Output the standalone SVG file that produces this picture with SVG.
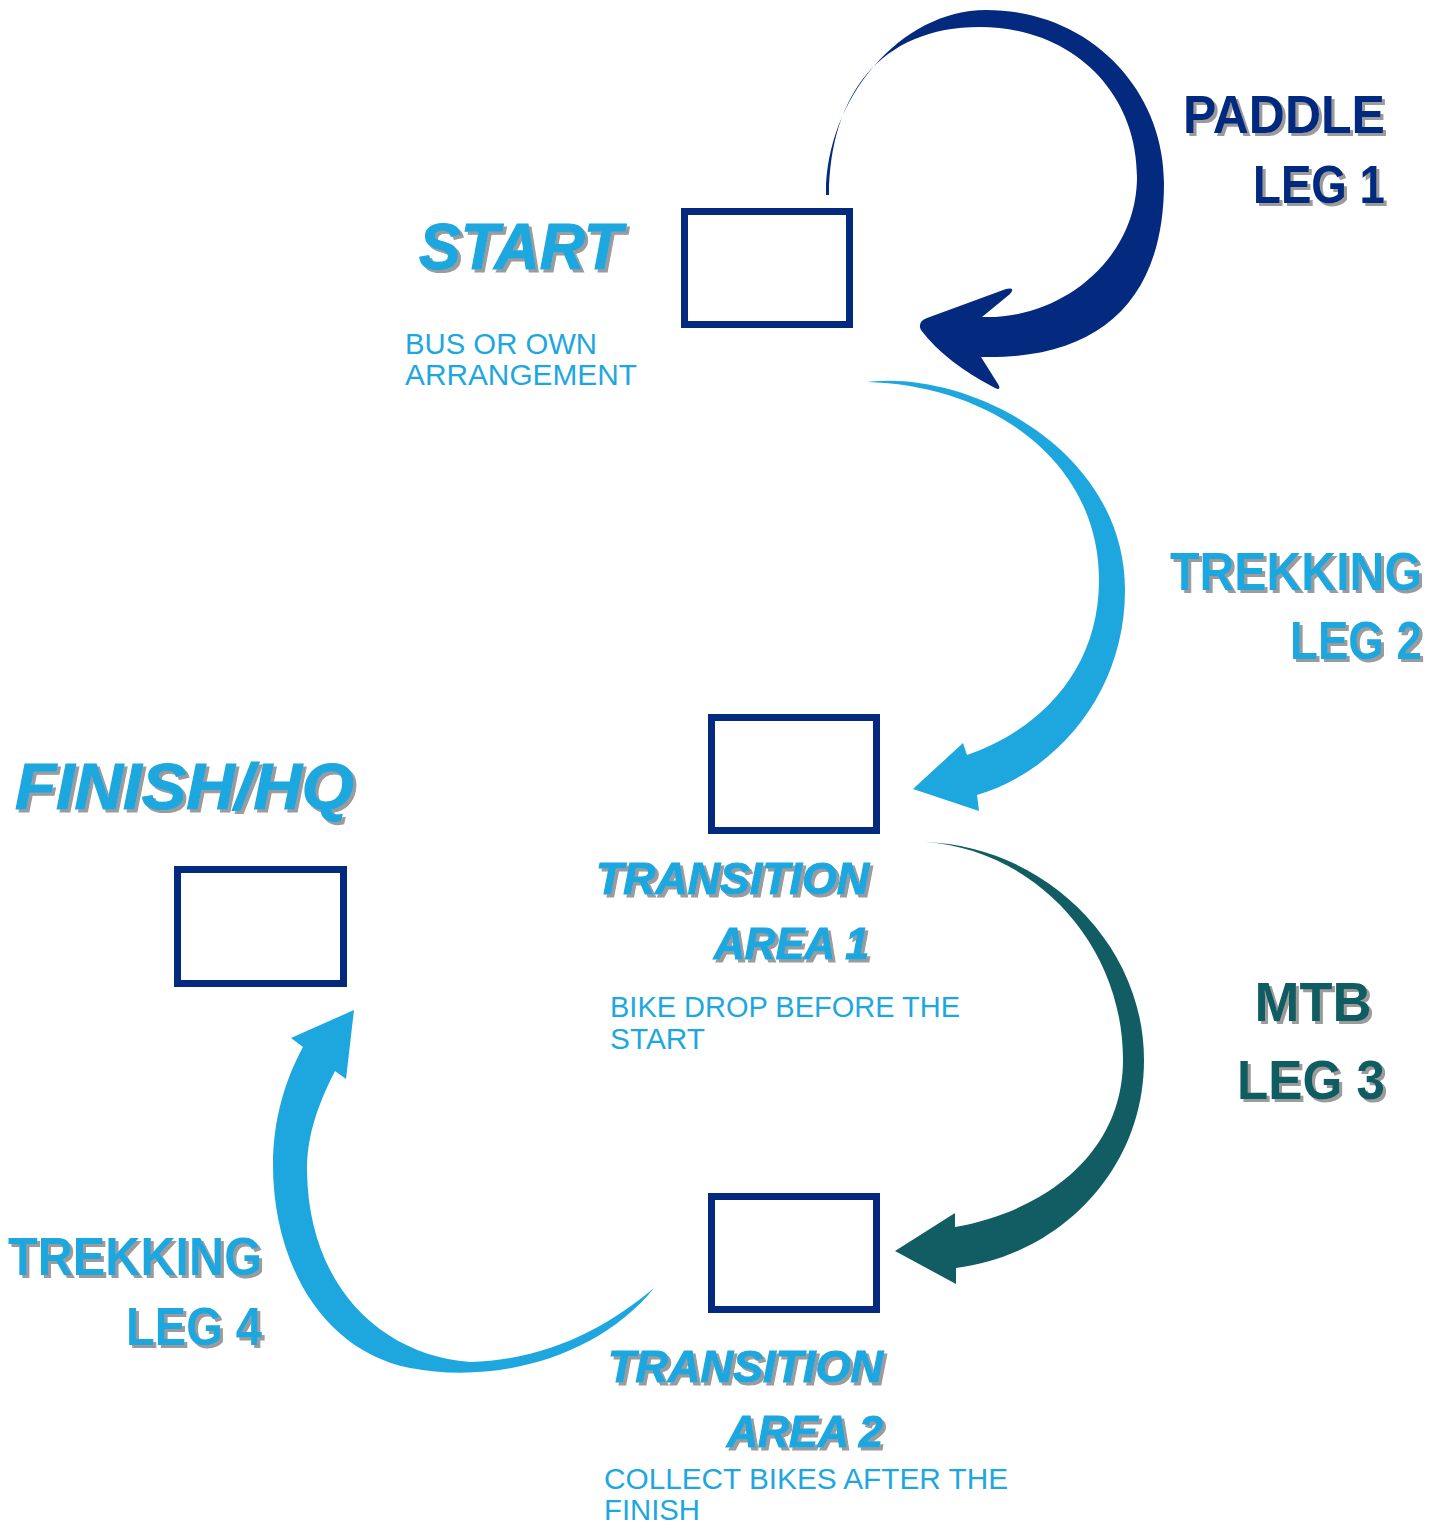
<svg xmlns="http://www.w3.org/2000/svg" width="1447" height="1523" viewBox="0 0 1447 1523">
<defs>
<filter id="sh" x="-5%" y="-15%" width="115%" height="140%">
<feOffset in="SourceAlpha" dx="3" dy="3" result="o"/>
<feFlood flood-color="#9b9b9b"/>
<feComposite in2="o" operator="in" result="s"/>
<feMerge><feMergeNode in="s"/><feMergeNode in="SourceGraphic"/></feMerge>
</filter>
</defs>
<style>
.box{fill:#fff;stroke:#042a7f;stroke-width:7}
.title{font-family:"Liberation Sans",Arial,sans-serif;font-weight:bold;font-style:italic;fill:#1ea7df;stroke:#1ea7df;stroke-width:1.2;filter:url(#sh)}
.leg{font-family:"Liberation Sans",Arial,sans-serif;font-weight:bold;filter:url(#sh)}
.note{font-family:"Liberation Sans",Arial,sans-serif;font-size:29px;fill:#1ea7df}
.navy{fill:#042a7f}
.blue{fill:#1ea7df}
.teal{fill:#115d63}
</style>
<rect width="1447" height="1523" fill="#fff"/>

<g id="connectors">
<path id="leg1" class="navy" d="M826,195 C825,100 900,10 986,10 C1090,10 1164,90 1164,183 C1164,300 1100,360 981,357 L998,384 Q1002,391 995,388 Q945,362 921,330 Q917,322 927,318 L1006,289 Q1016,287 1010,294 L982,317 C1060,320 1137,260 1137,177 C1137,90 1070,27 980,27 C880,27 830,95 829,195 Z"/>
<path id="leg2" class="blue" d="M867,382 C970,370 1125,450 1125,590 C1125,690 1060,770 977,795 L979,811 L913,789 L963,743 L967,755 C1040,730 1099,670 1099,580 C1099,460 990,385 867,382 Z"/>
<path id="leg3" class="teal" d="M924,842 C1040,845 1144,940 1144,1060 C1144,1170 1060,1255 956,1268 L956,1284 L895,1251 L955,1213 L955,1227 C1050,1210 1123,1150 1123,1060 C1123,940 1030,848 924,842 Z"/>
<path id="leg4" class="blue" d="M654,1288 C600,1355 500,1385 410,1368 C320,1350 273,1260 273,1165 C273,1120 285,1080 303,1047 L291,1038 L354,1010 L346,1079 L335,1071 C315,1110 307,1140 307,1170 C308,1285 380,1355 470,1362 C550,1360 610,1325 654,1288 Z"/>
</g>

<g id="start">
<rect class="box" x="684.5" y="211.5" width="165" height="113"/>
<text class="title" x="419" y="269" font-size="65" textLength="203" lengthAdjust="spacingAndGlyphs">START</text>
<text class="note" x="405" y="354" textLength="192" lengthAdjust="spacingAndGlyphs">BUS OR OWN</text>
<text class="note" x="405" y="385" textLength="232" lengthAdjust="spacingAndGlyphs">ARRANGEMENT</text>
</g>

<g id="transition1">
<rect class="box" x="711.5" y="717.5" width="165" height="113"/>
<text class="title" x="869" y="894" font-size="45" text-anchor="end" textLength="273" lengthAdjust="spacingAndGlyphs">TRANSITION</text>
<text class="title" x="869" y="959" font-size="45" text-anchor="end" textLength="155" lengthAdjust="spacingAndGlyphs">AREA 1</text>
<text class="note" x="610" y="1017" textLength="350" lengthAdjust="spacingAndGlyphs">BIKE DROP BEFORE THE</text>
<text class="note" x="610" y="1049" textLength="95" lengthAdjust="spacingAndGlyphs">START</text>
</g>

<g id="transition2">
<rect class="box" x="711.5" y="1196.5" width="165" height="113"/>
<text class="title" x="883" y="1382" font-size="45" text-anchor="end" textLength="275" lengthAdjust="spacingAndGlyphs">TRANSITION</text>
<text class="title" x="883" y="1447" font-size="45" text-anchor="end" textLength="156" lengthAdjust="spacingAndGlyphs">AREA 2</text>
<text class="note" x="604" y="1489" textLength="404" lengthAdjust="spacingAndGlyphs">COLLECT BIKES AFTER THE</text>
<text class="note" x="604" y="1520" textLength="96" lengthAdjust="spacingAndGlyphs">FINISH</text>
</g>

<g id="finish">
<rect class="box" x="177.5" y="869.5" width="166" height="114"/>
<text class="title" x="15" y="809" font-size="65" textLength="339" lengthAdjust="spacingAndGlyphs">FINISH/HQ</text>
</g>

<g id="labels">
<text class="leg navy" x="1385" y="133" font-size="53" text-anchor="end" textLength="202" lengthAdjust="spacingAndGlyphs">PADDLE</text>
<text class="leg navy" x="1385" y="203" font-size="53" text-anchor="end" textLength="132" lengthAdjust="spacingAndGlyphs">LEG 1</text>
<text class="leg blue" x="1422" y="590" font-size="53" text-anchor="end" textLength="252" lengthAdjust="spacingAndGlyphs">TREKKING</text>
<text class="leg blue" x="1422" y="659" font-size="53" text-anchor="end" textLength="132" lengthAdjust="spacingAndGlyphs">LEG 2</text>
<text class="leg teal" x="1313" y="1021" font-size="56" text-anchor="middle" textLength="117" lengthAdjust="spacingAndGlyphs">MTB</text>
<text class="leg teal" x="1311" y="1099" font-size="56" text-anchor="middle" textLength="148" lengthAdjust="spacingAndGlyphs">LEG 3</text>
<text class="leg blue" x="262" y="1275" font-size="53" text-anchor="end" textLength="254" lengthAdjust="spacingAndGlyphs">TREKKING</text>
<text class="leg blue" x="262" y="1345" font-size="53" text-anchor="end" textLength="136" lengthAdjust="spacingAndGlyphs">LEG 4</text>
</g>
</svg>
